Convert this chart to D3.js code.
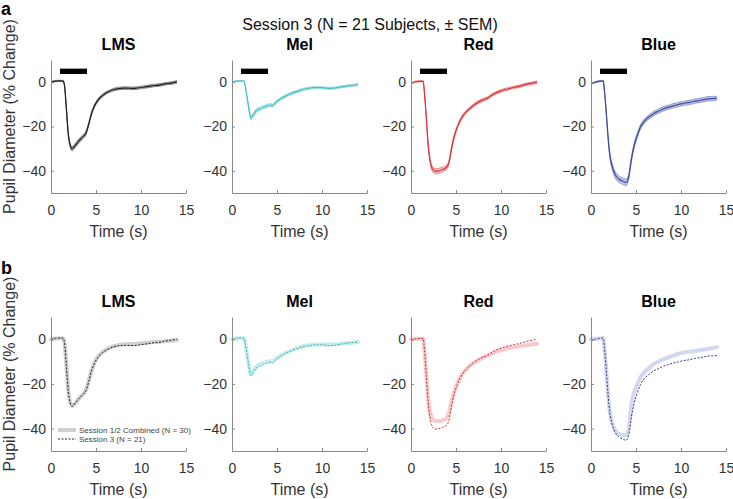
<!DOCTYPE html>
<html><head><meta charset="utf-8">
<script src="https://cdn.jsdelivr.net/npm/d3@7"></script>
<style>
body{margin:0;background:#fff;}
svg{display:block;font-family:"Liberation Sans",Arial,sans-serif;}
</style></head>
<body><svg id="chart" width="733" height="499"></svg>
<script>
// ---- data ----
const time = [0,0.5,1.0,1.35,1.5,1.7,1.9,2.1,2.35,2.7,3.1,3.5,3.9,4.2,4.5,4.8,5.1,5.5,6,6.5,7,7.5,8,8.5,9,9.5,10,10.5,11,11.5,12,12.5,13,13.5,14];
const conditions = ["LMS","Mel","Red","Blue"];
const lmsMean = [0,0.5,0.6,0.5,-1.5,-11.5,-22.5,-28,-30,-28.5,-26.5,-24.8,-22.8,-18.8,-14.2,-11,-8.8,-6.8,-5.2,-4.1,-3.3,-2.9,-2.7,-2.7,-2.8,-2.7,-2.4,-2.1,-1.8,-1.5,-1.3,-0.9,-0.6,-0.3,0.1];
const melMean = [0,0.5,0.6,0.5,-2.5,-7.5,-12.5,-16.2,-14.8,-12.9,-12,-11.3,-10.7,-10.3,-10.6,-9.4,-8.4,-7.3,-6.2,-5.3,-4.5,-3.8,-3.2,-2.8,-2.5,-2.4,-2.5,-2.7,-2.8,-2.6,-2.2,-1.9,-1.6,-1.4,-1.1];
const redMean = [-0.5,0.2,0.4,0.4,-5,-16,-28,-35,-38.8,-40.2,-40,-39.4,-38.6,-36.5,-30,-24.5,-20.8,-17,-14,-12,-10.3,-9,-8,-7.2,-5.8,-4.7,-3.9,-3.3,-2.8,-2.3,-1.9,-1.3,-0.8,-0.4,0];
const blueMean = [-0.6,0,0.5,0.6,-4,-14,-25,-33,-38,-41.8,-43.7,-44.6,-45.2,-42.5,-34.5,-28.5,-24.5,-20.2,-17.3,-15.5,-14.1,-13.1,-12.1,-11.4,-10.8,-10.3,-9.8,-9.4,-9.1,-8.6,-8.3,-7.9,-7.5,-7.4,-7.3];
const lmsSem = [0.3,0.3,0.3,0.3,0.5,0.7,0.9,1.0,1.0,1.0,1.0,0.9,0.9,0.8,0.8,0.7,0.7,0.7,0.6,0.6,0.6,0.6,0.6,0.6,0.6,0.6,0.6,0.6,0.6,0.6,0.6,0.6,0.6,0.6,0.6];
const melSem = [0.2,0.2,0.2,0.2,0.4,0.6,0.8,0.9,0.9,0.9,0.8,0.8,0.7,0.7,0.7,0.7,0.6,0.6,0.6,0.6,0.6,0.6,0.6,0.5,0.5,0.5,0.5,0.5,0.5,0.5,0.5,0.5,0.5,0.5,0.5];
const redSem = [0.3,0.3,0.3,0.3,0.5,0.8,1.0,1.1,1.2,1.2,1.2,1.1,1.1,1.0,1.0,0.9,0.8,0.8,0.7,0.7,0.7,0.7,0.7,0.6,0.6,0.6,0.6,0.6,0.6,0.6,0.6,0.6,0.6,0.6,0.6];
const blueSem = [0.3,0.3,0.3,0.3,0.6,0.9,1.1,1.3,1.4,1.5,1.5,1.5,1.5,1.4,1.3,1.2,1.1,1.1,1.0,1.0,1.0,1.0,1.0,1.0,1.0,1.0,1.0,1.0,1.0,1.0,1.0,1.0,1.0,1.0,1.0];
// Session 1/2 combined means (panel b)
const lms12Mean = [0,0.4,0.5,0.4,-1.5,-11,-22,-27.8,-29.8,-28.6,-26.6,-24.8,-22.6,-18.5,-14,-10.8,-8.5,-6.5,-5,-3.9,-3.1,-2.6,-2.3,-2.2,-2.1,-2.0,-1.8,-1.6,-1.4,-1.2,-1.1,-0.9,-0.7,-0.5,-0.3];
const mel12Mean = [0,0.4,0.5,0.4,-2.5,-7.5,-12.3,-15.8,-14.2,-12.2,-11.2,-10.5,-10,-9.8,-9.9,-9,-8.1,-7.1,-6,-5.1,-4.3,-3.6,-3.0,-2.6,-2.4,-2.3,-2.3,-2.3,-2.3,-2.2,-2.0,-1.8,-1.6,-1.4,-1.2];
const red12Mean = [0,0.3,0.3,0.3,-5,-16,-26.5,-32.5,-35.5,-36.6,-36.6,-36.3,-35.5,-33,-28,-23.5,-20.3,-16.8,-14,-12,-10.4,-9.2,-8.2,-7.3,-6.3,-5.5,-4.8,-4.3,-3.9,-3.5,-3.1,-2.8,-2.5,-2.2,-2.0];
const blue12Mean = [0,0.2,0.4,0.5,-4,-14,-25,-32.5,-37.5,-40.8,-42.3,-42.8,-42.8,-40,-29,-23.5,-20.5,-17,-14.5,-12.6,-11,-9.9,-9,-8.2,-7.5,-6.8,-6.2,-5.8,-5.5,-5.2,-5,-4.6,-4.3,-3.9,-3.5];
const xTicks = [0,5,10,15];
const yTicks = [0,-20,-40];
const stimulus = [1,4];
const legendLabels = ["Session 1/2 Combined (N = 30)","Session 3 (N = 21)"];

const means = [lmsMean, melMean, redMean, blueMean];
const sems = [lmsSem, melSem, redSem, blueSem];
const means12 = [lms12Mean, mel12Mean, red12Mean, blue12Mean];
const lineColors = ["#1f1f1f","#4cc4c9","#d8353d","#3e4d9e"];
const bandColors = ["#a9a9a9","#a6e2e5","#f2a4a7","#a7afdb"];
const thickColors = ["#cfcfcf","#c6ecee","#f7c9ca","#d3d8ef"];
const dotColors = ["#222","#3db0b5","#c42d36","#2f3c8c"];

// ---- layout ----
const svg = d3.select("#chart");
const lefts = [51, 232, 411, 591];
const pw = 135;
const rows = [{top:60, h:133, label:"a"}, {top:317, h:134, label:"b"}];
const axisCol = "#8a8a8a", txtCol = "#333";

svg.append("text").attr("x", 370).attr("y", 30).attr("text-anchor","middle")
  .attr("font-size", 16).attr("fill", "#111").text("Session 3 (N = 21 Subjects, ± SEM)");

rows.forEach((row, ri) => {
  svg.append("text").attr("x", 1).attr("y", ri === 0 ? 15 : 274)
    .attr("font-size", 18).attr("font-weight","bold").attr("fill","#000").text(row.label);
  const yc = row.top + row.h/2 - 10;
  svg.append("text").attr("transform", `translate(15,${yc}) rotate(-90)`)
    .attr("text-anchor","middle").attr("font-size",16).attr("fill",txtCol)
    .text("Pupil Diameter (% Change)");

  conditions.forEach((cond, ci) => {
    const x = d3.scaleLinear().domain([0,15]).range([lefts[ci], lefts[ci]+pw]);
    const y = d3.scaleLinear().domain([-50,10]).range([row.top+row.h, row.top]);
    const g = svg.append("g");

    g.append("text").attr("x", x(7.5)).attr("y", row.top - 10).attr("text-anchor","middle")
      .attr("font-size",16).attr("font-weight","bold").attr("fill","#000").text(cond);

    const line = d3.line().x((d,i)=>x(time[i])).y(d=>y(d)).curve(d3.curveMonotoneX);
    if (ri === 0) {
      const area = d3.area().x((d,i)=>x(time[i]))
        .y0((d,i)=>y(d - sems[ci][i])).y1((d,i)=>y(d + sems[ci][i])).curve(d3.curveMonotoneX);
      g.append("path").attr("d", area(means[ci])).attr("fill", bandColors[ci]).attr("opacity",0.75);
      const lo = means[ci].map((d,i)=>d - sems[ci][i]);
      const hi = means[ci].map((d,i)=>d + sems[ci][i]);
      [lo,hi].forEach(arr => g.append("path").attr("d", line(arr)).attr("fill","none")
        .attr("stroke", lineColors[ci]).attr("stroke-width",0.6).attr("opacity",0.7));
      g.append("path").attr("d", line(means[ci])).attr("fill","none")
        .attr("stroke", lineColors[ci]).attr("stroke-width",1.2);
      g.append("rect").attr("x", x(stimulus[0])).attr("width", x(stimulus[1]) - x(stimulus[0]))
        .attr("y", y(6.1)).attr("height", y(3.7) - y(6.1)).attr("fill","#000");
    } else {
      g.append("path").attr("d", line(means12[ci])).attr("fill","none")
        .attr("stroke", thickColors[ci]).attr("stroke-width",4).attr("stroke-linecap","round");
      g.append("path").attr("d", line(means[ci])).attr("fill","none")
        .attr("stroke", dotColors[ci]).attr("stroke-width",1).attr("stroke-dasharray","2,1.5");
    }

    const xa = g.append("g").attr("transform", `translate(0,${row.top+row.h})`)
      .call(d3.axisBottom(x).tickValues(xTicks).tickSizeInner(-3).tickSizeOuter(0).tickPadding(12));
    const ya = g.append("g").attr("transform", `translate(${lefts[ci]},0)`)
      .call(d3.axisLeft(y).tickValues(yTicks).tickSizeInner(-3).tickSizeOuter(0).tickPadding(5));
    [xa, ya].forEach(a => {
      a.select(".domain").attr("stroke", axisCol).attr("stroke-width",1);
      a.selectAll(".tick line").attr("stroke", axisCol);
      a.selectAll(".tick text").attr("font-size",14).attr("fill",txtCol)
        .attr("font-family",'"Liberation Sans",Arial,sans-serif');
    });
    g.append("text").attr("x", x(7.5)).attr("y", row.top + row.h + 44).attr("text-anchor","middle")
      .attr("font-size",16).attr("fill",txtCol).text("Time (s)");

    if (ri === 1 && ci === 0) {
      const lx = 58, ly = [430, 439];
      g.append("line").attr("x1",lx).attr("x2",lx+18).attr("y1",ly[0]).attr("y2",ly[0])
        .attr("stroke", thickColors[0]).attr("stroke-width",4);
      g.append("line").attr("x1",lx).attr("x2",lx+18).attr("y1",ly[1]).attr("y2",ly[1])
        .attr("stroke", dotColors[0]).attr("stroke-width",1).attr("stroke-dasharray","2,1.5");
      legendLabels.forEach((t,i)=> g.append("text").attr("x", lx+21).attr("y", ly[i]+3)
        .attr("font-size",8).attr("fill","#444").text(t));
    }
  });
});
</script></body></html>
